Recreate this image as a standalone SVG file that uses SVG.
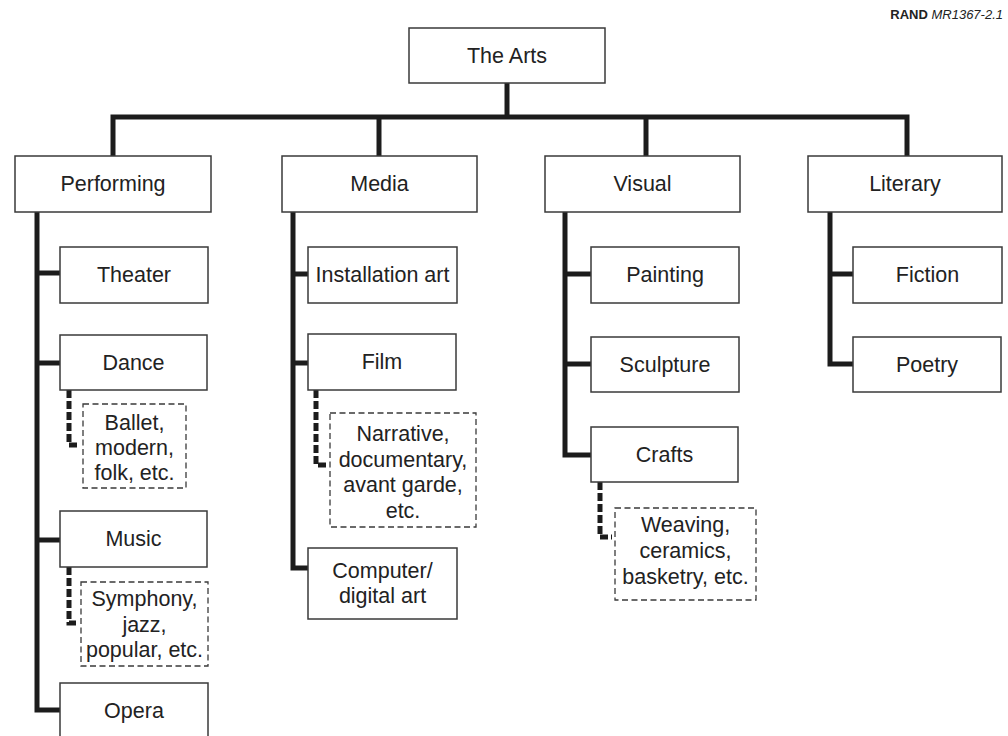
<svg xmlns="http://www.w3.org/2000/svg" width="1008" height="736" viewBox="0 0 1008 736">
<style>
.box{fill:#fff;stroke:#3a3a3a;stroke-width:1.5}
.dbox{fill:#fff;stroke:#3a3a3a;stroke-width:1.3;stroke-dasharray:6 3.5}
.t{font-family:"Liberation Sans",Arial,sans-serif;font-size:21.5px;fill:#222;text-anchor:middle}
.c{fill:none;stroke:#1c1c1c;stroke-width:5;stroke-linejoin:miter;stroke-linecap:butt}
.dc{fill:none;stroke:#1c1c1c;stroke-width:5;stroke-dasharray:8 3;stroke-linejoin:miter}
.rand{font-family:"Liberation Sans",Arial,sans-serif;font-size:13px;fill:#222;text-anchor:end}
</style>
<rect width="1008" height="736" fill="#fff"/>
<text class="rand" x="1003" y="19"><tspan font-weight="bold">RAND </tspan><tspan font-style="italic">MR1367-2.1</tspan></text>
<g id="connectors">
<path class="c" d="M507,83 V117"/>
<path class="c" d="M113,156 V117 H907 V156"/>
<path class="c" d="M379,117 V156"/>
<path class="c" d="M646,117 V156"/>
<path class="c" d="M37,212 V710 H60"/>
<path class="c" d="M37,273 H60 M37,363 H60 M37,540 H60"/>
<path class="c" d="M293,212 V568 H308"/>
<path class="c" d="M293,274 H308 M293,363 H308"/>
<path class="c" d="M565,212 V455 H591"/>
<path class="c" d="M565,274 H591 M565,364 H591"/>
<path class="c" d="M830,212 V364 H853"/>
<path class="c" d="M830,274 H853"/>
<path class="dc" d="M69,390 V445 H80"/>
<path class="dc" d="M69,567 V623 H79"/>
<path class="dc" d="M316,390 V465 H327"/>
<path class="dc" d="M600,482 V537 H612"/>
</g>
<g id="the-arts"><rect class="box" x="409" y="28" width="196" height="55"/><text class="t" x="507" y="63" font-size="22">The Arts</text></g>
<g id="performing"><rect class="box" x="15" y="156" width="196" height="56"/><text class="t" x="113" y="191">Performing</text></g>
<g id="media"><rect class="box" x="282" y="156" width="195" height="56"/><text class="t" x="379.5" y="191">Media</text></g>
<g id="visual"><rect class="box" x="545" y="156" width="195" height="56"/><text class="t" x="642.5" y="191">Visual</text></g>
<g id="literary"><rect class="box" x="808" y="156" width="194" height="56"/><text class="t" x="905" y="191">Literary</text></g>
<g id="theater"><rect class="box" x="60" y="247" width="148" height="56"/><text class="t" x="134" y="282">Theater</text></g>
<g id="dance"><rect class="box" x="60" y="335" width="147" height="55"/><text class="t" x="133.5" y="370">Dance</text></g>
<g id="dance-types"><rect class="dbox" x="83" y="404" width="103" height="84"/><text class="t" x="134.5" y="430">Ballet,</text><text class="t" x="134.5" y="455">modern,</text><text class="t" x="134.5" y="480">folk, etc.</text></g>
<g id="music"><rect class="box" x="60" y="511" width="147" height="56"/><text class="t" x="133.5" y="546">Music</text></g>
<g id="music-types"><rect class="dbox" x="81" y="582" width="127" height="84"/><text class="t" x="144.5" y="606">Symphony,</text><text class="t" x="144.5" y="632">jazz,</text><text class="t" x="144.5" y="657">popular, etc.</text></g>
<g id="opera"><rect class="box" x="60" y="683" width="148" height="57"/><text class="t" x="134" y="718">Opera</text></g>
<g id="installation-art"><rect class="box" x="308" y="247" width="149" height="56"/><text class="t" x="382.5" y="282">Installation art</text></g>
<g id="film"><rect class="box" x="308" y="334" width="148" height="56"/><text class="t" x="382" y="369">Film</text></g>
<g id="film-types"><rect class="dbox" x="330" y="413" width="146" height="114"/><text class="t" x="403" y="441">Narrative,</text><text class="t" x="403" y="467">documentary,</text><text class="t" x="403" y="492">avant garde,</text><text class="t" x="403" y="518">etc.</text></g>
<g id="computer-art"><rect class="box" x="308" y="548" width="149" height="71"/><text class="t" x="382.5" y="578">Computer/</text><text class="t" x="382.5" y="603">digital art</text></g>
<g id="painting"><rect class="box" x="591" y="247" width="148" height="56"/><text class="t" x="665" y="282">Painting</text></g>
<g id="sculpture"><rect class="box" x="591" y="337" width="148" height="55"/><text class="t" x="665" y="372">Sculpture</text></g>
<g id="crafts"><rect class="box" x="591" y="427" width="147" height="55"/><text class="t" x="664.5" y="462">Crafts</text></g>
<g id="crafts-types"><rect class="dbox" x="615" y="508" width="141" height="92"/><text class="t" x="685.5" y="532">Weaving,</text><text class="t" x="685.5" y="558">ceramics,</text><text class="t" x="685.5" y="584">basketry, etc.</text></g>
<g id="fiction"><rect class="box" x="853" y="247" width="149" height="56"/><text class="t" x="927.5" y="282">Fiction</text></g>
<g id="poetry"><rect class="box" x="853" y="337" width="148" height="55"/><text class="t" x="927" y="372">Poetry</text></g>
</svg>
